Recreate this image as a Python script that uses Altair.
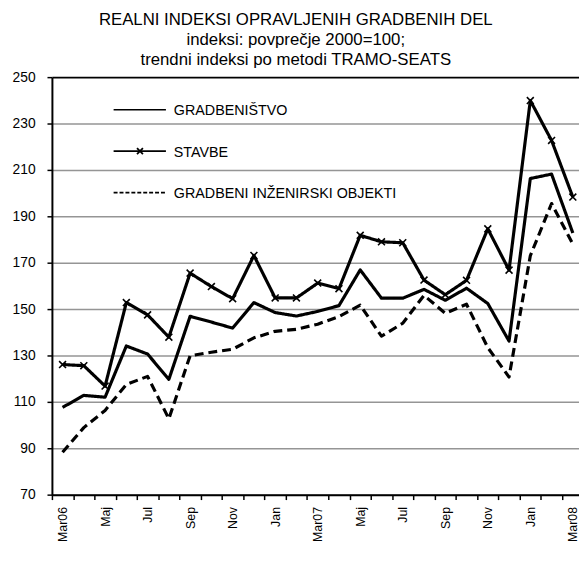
import altair as alt
import pandas as pd

months = ["Mar06", "Apr", "Maj", "Jun", "Jul", "Avg", "Sep", "Okt", "Nov", "Dec", "Jan", "Feb",
          "Mar07", "Apr", "Maj", "Jun", "Jul", "Avg", "Sep", "Okt", "Nov", "Dec", "Jan", "Feb", "Mar08"]

gradbenistvo = [107.6, 112.8, 112.0, 134.1, 130.6, 119.7, 146.9, 144.4, 141.8, 152.8, 148.5, 147.0,
                149.0, 151.5, 166.9, 154.7, 154.7, 158.5, 153.8, 159.0, 152.4, 136.2, 206.3, 208.2, 182.8]
stavbe = [126.1, 125.6, 116.8, 152.8, 147.5, 137.9, 165.5, 159.7, 154.5, 173.1, 154.8, 154.8,
          161.2, 158.8, 181.8, 179.0, 178.6, 162.5, 156.2, 162.4, 184.6, 166.8, 239.9, 222.7, 198.3]
inzenirski = [88.3, 98.9, 106.3, 117.5, 121.0, 102.7, 129.9, 131.4, 132.7, 137.6, 140.4, 141.3,
              143.5, 146.8, 151.7, 138.3, 143.9, 155.9, 148.2, 152.1, 133.4, 120.7, 173.0, 195.5, 178.0]

series_names = ["GRADBENIŠTVO", "STAVBE", "GRADBENI INŽENIRSKI OBJEKTI"]
y_ticks = [70, 90, 110, 130, 150, 170, 190, 210, 230, 250]
title_lines = ["REALNI INDEKSI OPRAVLJENIH GRADBENIH DEL",
               "indeksi: povprečje 2000=100;",
               "trendni indeksi po metodi TRAMO-SEATS"]

rows = []
for name, vals in zip(series_names, [gradbenistvo, stavbe, inzenirski]):
    for i, v in enumerate(vals):
        rows.append({"idx": i, "month": months[i], "series": name, "value": v})
df = pd.DataFrame(rows)
legend_df = pd.DataFrame({"series": series_names, "row": list(range(len(series_names)))})

shown = [m if i % 2 == 0 else "" for i, m in enumerate(months)]
label_expr = "[" + ",".join("'" + s + "'" for s in shown) + "][datum.value]"

FONT = "Liberation Sans"
W = 534
H = 423
x_dom = [-0.5, 24.29]
band = W / (x_dom[1] - x_dom[0])

x_enc = alt.X("idx:Q",
              scale=alt.Scale(domain=x_dom, nice=False, zero=False),
              axis=alt.Axis(values=list(range(len(months))), labelExpr=label_expr,
                            tickOffset=-band / 2, labelOffset=band / 2,
                            labelAngle=270, labelPadding=7, labelFontSize=12.5,
                            tickSize=5, tickWidth=1.5,
                            domainWidth=2, grid=False, labelOverlap=False,
                            labelBound=False, labelFlush=False, title=None))
y_enc = alt.Y("value:Q",
              scale=alt.Scale(domain=[70, 250], nice=False, zero=False),
              axis=alt.Axis(values=y_ticks, tickSize=5, tickWidth=1.5, domainWidth=2,
                            labelPadding=12, labelFontSize=14, grid=True,
                            gridColor={"condition": {"test": "datum.value === 250", "value": "black"},
                                       "value": "#959595"},
                            gridWidth={"condition": {"test": "datum.value === 250", "value": 2},
                                       "value": 1.5},
                            title=None))

base = alt.Chart(df)

lines = base.mark_line(strokeWidth=3.2, color="black", strokeJoin="round").encode(
    x=x_enc, y=y_enc,
    strokeDash=alt.StrokeDash("series:N",
                              scale=alt.Scale(domain=series_names, range=[[1, 0], [1, 0], [9, 5]]),
                              legend=None),
)

markers = base.transform_filter(alt.datum.series == "STAVBE").mark_point(
    shape="M-1,-1L1,1M-1,1L1,-1", size=49, filled=False, color="black",
    strokeWidth=1.6, opacity=1).encode(x=x_enc, y=y_enc)

main = alt.layer(lines, markers)

# legend drawn from its own small table
leg_y = alt.Y("row:Q", scale=alt.Scale(domain=[0, 2], range=[33, 117]), axis=None)
leg_base = alt.Chart(legend_df)
leg_lines = leg_base.mark_rule(strokeWidth=1.6, color="black").encode(
    x=alt.value(62.5), x2=alt.value(115.5), y=leg_y,
    strokeDash=alt.StrokeDash("series:N",
                              scale=alt.Scale(domain=series_names, range=[[1, 0], [1, 0], [4, 2]]),
                              legend=None),
)
leg_mark = leg_base.transform_filter(alt.datum.series == "STAVBE").mark_point(
    shape="M-1,-1L1,1M-1,1L1,-1", size=36, filled=False, color="black",
    strokeWidth=1.8, opacity=1).encode(x=alt.value(89.2), y=leg_y)
leg_text = leg_base.mark_text(align="left", baseline="middle", font=FONT, fontSize=14.5,
                              color="black", dy=1.5).encode(
    x=alt.value(123.5), y=leg_y, text="series:N")
legend = alt.layer(leg_lines, leg_mark, leg_text)

chart = alt.layer(main, legend).resolve_scale(y="independent", strokeDash="independent").properties(
    width=W, height=H,
    autosize=alt.AutoSizeParams(type="none"),
    padding={"left": 44.5, "top": 66.5, "right": 0, "bottom": 49.5},
    title=alt.TitleParams(text=title_lines, font=FONT, fontSize=17, fontWeight="normal",
                          lineHeight=20.5, anchor="middle", frame="bounds", offset=2, dy=14,
                          baseline="alphabetic", color="black"),
).configure_view(strokeWidth=0).configure_axis(
    labelFont=FONT, labelColor="black", tickColor="black",
    domainColor="black",
)

chart.save("out.html", embed_options={"renderer": "svg", "actions": False})
